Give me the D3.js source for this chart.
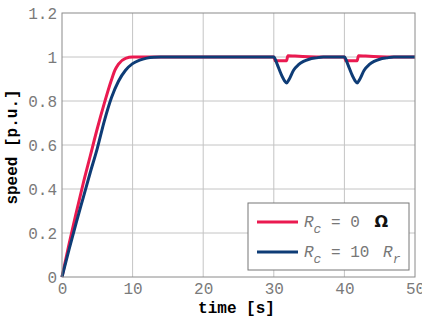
<!DOCTYPE html>
<html>
<head>
<meta charset="utf-8">
<script src="https://cdn.jsdelivr.net/npm/d3@7"></script>
<style>
  body { margin: 0; background: #fff; }
  text { font-family: "Liberation Mono", "DejaVu Sans Mono", monospace; }
</style>
</head>
<body>
<div id="chart"></div>
<script>
// values
var xTicks = [0, 10, 20, 30, 40, 50];
var yTicks = [0, 0.2, 0.4, 0.6, 0.8, 1, 1.2];
var yTickLabels = ["0", "0.2", "0.4", "0.6", "0.8", "1", "1.2"];

// R_c = 0 ohm
var redT = [0, 1, 2, 3, 4, 5, 6, 7, 7.5, 8, 9, 10, 11, 30, 30.2, 31.8, 32.0, 33, 35, 37, 40, 40.2, 41.8, 42.0, 43, 45, 47, 50];
var redV = [0, 0.15, 0.29, 0.425, 0.55, 0.675, 0.79, 0.895, 0.94, 0.968, 0.994, 1.0, 1.0, 1.0, 0.983, 0.983, 1.006, 1.004, 1.001, 1.0, 1.0, 0.983, 0.983, 1.006, 1.004, 1.001, 1.0, 1.0];

// R_c = 10 R_r
var blueT = [0, 1, 2, 3, 4, 5, 6, 7, 8, 9, 10, 11, 12, 13, 14, 30, 30.5, 31, 31.5, 31.8, 32.2, 32.8, 33.5, 34.2, 35, 36, 37, 40, 40.5, 41, 41.5, 41.8, 42.2, 42.8, 43.5, 44.2, 45, 46, 47, 50];
var blueV = [0, 0.125, 0.245, 0.36, 0.475, 0.585, 0.71, 0.815, 0.89, 0.94, 0.97, 0.986, 0.995, 0.999, 1.0, 1.0, 0.965, 0.925, 0.893, 0.882, 0.9, 0.94, 0.965, 0.98, 0.99, 0.996, 1.0, 1.0, 0.965, 0.925, 0.893, 0.882, 0.9, 0.94, 0.965, 0.98, 0.99, 0.996, 1.0, 1.0];

var W = 422, H = 318;
var margin = {top: 13, right: 7, bottom: 41, left: 62};
var width = W - margin.left - margin.right,
    height = H - margin.top - margin.bottom;

var svg = d3.select("#chart").append("svg")
    .attr("width", W)
    .attr("height", H);

var g = svg.append("g")
    .attr("transform", "translate(" + margin.left + "," + margin.top + ")");

var x = d3.scaleLinear().domain([0, 50]).range([0, width]);
var y = d3.scaleLinear().domain([0, 1.2]).range([height, 0]);

// grid
g.append("g").selectAll("line.vx")
    .data(xTicks.slice(1, -1))
    .enter().append("line")
      .attr("x1", function (d) { return x(d); })
      .attr("x2", function (d) { return x(d); })
      .attr("y1", 0).attr("y2", height)
      .attr("stroke", "#c4c4c4").attr("stroke-width", 1);

g.append("g").selectAll("line.hy")
    .data(yTicks.slice(1, -1))
    .enter().append("line")
      .attr("y1", function (d) { return y(d); })
      .attr("y2", function (d) { return y(d); })
      .attr("x1", 0).attr("x2", width)
      .attr("stroke", "#c4c4c4").attr("stroke-width", 1);

// tick labels via axes
var xAxis = g.append("g")
    .attr("transform", "translate(0," + height + ")")
    .call(d3.axisBottom(x).tickValues(xTicks).tickSize(0).tickPadding(4));
var yAxis = g.append("g")
    .call(d3.axisLeft(y).tickValues(yTicks).tickSize(0).tickPadding(5)
      .tickFormat(function (d, i) { return yTickLabels[i]; }));

[xAxis, yAxis].forEach(function (a) {
  a.select(".domain").remove();
  a.selectAll("text")
    .style("font-family", "'Liberation Mono', monospace")
    .style("font-size", "16px")
    .attr("fill", "#7a7a7a");
});
xAxis.selectAll("text").attr("dy", "0.8em");

// curves
var line = d3.line()
    .x(function (d) { return x(d[0]); })
    .y(function (d) { return y(d[1]); })
    .curve(d3.curveMonotoneX);

var series = [
  {t: redT, v: redV, color: "#ea1a50"},
  {t: blueT, v: blueV, color: "#0e3c76"}
];

g.append("g").selectAll("path")
    .data(series)
    .enter().append("path")
      .attr("d", function (s) { return line(d3.zip(s.t, s.v)); })
      .attr("fill", "none")
      .attr("stroke", function (s) { return s.color; })
      .attr("stroke-width", 3)
      .attr("stroke-linejoin", "round");

// frame
g.append("rect")
    .attr("width", width).attr("height", height)
    .attr("fill", "none").attr("stroke", "#8a8a8a").attr("stroke-width", 1);

// axis titles
svg.append("text")
    .attr("x", margin.left + width / 2 - 2).attr("y", 313)
    .attr("text-anchor", "middle")
    .style("font-size", "16px").style("font-weight", "bold")
    .text("time [s]");

svg.append("text")
    .attr("transform", "translate(17," + (margin.top + height / 2 + 2) + ") rotate(-90)")
    .attr("text-anchor", "middle")
    .style("font-size", "16px").style("font-weight", "bold")
    .text("speed [p.u.]");

// legend
var lg = svg.append("g").attr("transform", "translate(248,203)");
lg.append("rect")
    .attr("width", 161).attr("height", 67)
    .attr("fill", "#fff").attr("stroke", "#777").attr("stroke-width", 1);

var legendRows = [
  {color: "#ea1a50", eq: " = 0 ", tail: "\u03A9", tailItalic: false},
  {color: "#0e3c76", eq: " = 10 ", tail: "R", tailSub: "r", tailItalic: true}
];

legendRows.forEach(function (r, i) {
  var yy = 19 + i * 30;
  lg.append("line")
    .attr("x1", 9).attr("x2", 50)
    .attr("y1", yy).attr("y2", yy)
    .attr("stroke", r.color).attr("stroke-width", 3);
  var t = lg.append("text")
    .attr("x", 56).attr("y", yy + 5)
    .style("font-size", "16px").attr("fill", "#777");
  t.append("tspan").style("font-style", "italic").text("R");
  t.append("tspan").attr("dy", 6).style("font-size", "13px").style("font-style", "italic").text("c");
  t.append("tspan").attr("dy", -6).text(r.eq);
  if (r.tailItalic) {
    t.append("tspan").attr("dx", 4).style("font-style", "italic").text(r.tail);
    t.append("tspan").attr("dy", 6).style("font-size", "13px").style("font-style", "italic").text(r.tailSub);
  } else {
    t.append("tspan").attr("dx", 5)
      .style("font-family", "'DejaVu Sans', sans-serif")
      .style("font-weight", "bold").attr("fill", "#111")
      .text(r.tail);
  }
});
</script>
</body>
</html>
